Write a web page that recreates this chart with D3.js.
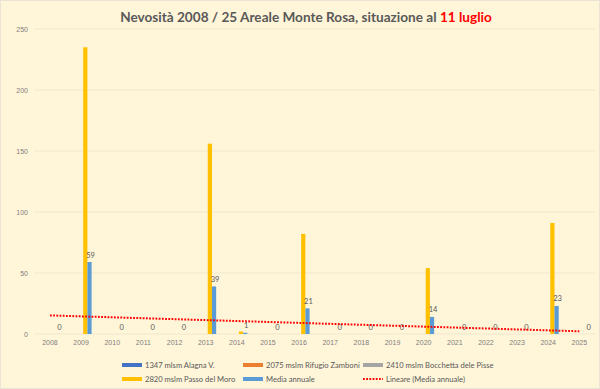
<!DOCTYPE html>
<html>
<head>
<meta charset="utf-8">
<script src="https://cdn.jsdelivr.net/npm/d3@7"></script>
<style>
  body { margin: 0; background: #fff; }
  svg { display: block; font-family: Lato, "Open Sans", sans-serif; }
</style>
</head>
<body>
<div id="chart"></div>
<script>
const kWidth = 600;
const kHeight = 389;

const years = ["2008", "2009", "2010", "2011", "2012", "2013", "2014", "2015", "2016",
  "2017", "2018", "2019", "2020", "2021", "2022", "2023", "2024", "2025"];
const alagna    = [0, 0, 0, 0, 0, 0, 0, 0, 0, 0, 0, 0, 0, 0, 0, 0, 0, 0];
const zamboni   = [0, 0, 0, 0, 0, 0, 0, 0, 0, 0, 0, 0, 0, 0, 0, 0, 0, 0];
const bocchetta = [0, 0, 0, 0, 0, 0, 0, 0, 0, 0, 0, 0, 0, 0, 0, 0, 0, 0];
const passoMoro = [0, 235, 0, 0, 0, 156, 2, 0, 82, 0, 0, 0, 54, 0, 0, 0, 91, 0];
const media     = [0, 59, 0, 0, 0, 39, 1, 0, 21, 0, 0, 0, 14, 0, 0, 0, 23, 0];
const yTicks = [0, 50, 100, 150, 200, 250];

const seriesNames = ["1347 mlsm Alagna V.", "2075 mslm Rifugio Zamboni", "2410 mslm Bocchetta dele Pisse",
  "2820 mslm Passo del Moro", "Media annuale"];
const seriesColors = ["#4472C4", "#ED7D31", "#A5A5A5", "#FFC000", "#5B9BD5"];
const seriesValues = [alagna, zamboni, bocchetta, passoMoro, media];

const svg = d3.select("#chart")
  .append("svg")
  .attr("width", kWidth)
  .attr("height", kHeight);

svg.append("rect")
  .attr("x", 0.5).attr("y", 0.5)
  .attr("width", kWidth - 1).attr("height", kHeight - 1)
  .attr("fill", "#FFF5D8")
  .attr("stroke", "#E9E4D6");

// title
const title = svg.append("text")
  .attr("x", 306)
  .attr("y", 22)
  .attr("text-anchor", "middle")
  .style("font-size", "13.6px")
  .style("font-weight", "bold")
  .attr("fill", "#595959");
title.append("tspan").text("Nevosità 2008 / 25 Areale Monte Rosa, situazione al ");
title.append("tspan").attr("fill", "#FF0000").text("11 luglio");

const xScale = d3.scaleBand()
  .domain(years)
  .range([34.4, 594.9]);

const xSeries = d3.scaleBand()
  .domain(d3.range(5))
  .range([0, xScale.bandwidth()])
  .paddingOuter(1.21);

const yScale = d3.scaleLinear()
  .domain([0, 250])
  .range([334, 29]);

// gridlines
svg.append("g")
  .selectAll("line")
  .data(yTicks)
  .join("line")
  .attr("x1", 34.4)
  .attr("x2", 594.9)
  .attr("y1", d => yScale(d))
  .attr("y2", d => yScale(d))
  .attr("stroke", "#F0E7D0")
  .attr("stroke-width", 1);

const yAxis = d3.axisLeft(yScale).tickValues(yTicks).tickSize(0).tickPadding(0);
svg.append("g")
  .attr("transform", "translate(28,0)")
  .call(yAxis)
  .call(g => g.select(".domain").remove())
  .call(g => g.selectAll("text").attr("fill", "#7F7F7F").style("font-size", "7px").attr("font-family", null));

const xAxis = d3.axisBottom(xScale).tickSize(0).tickPadding(0);
svg.append("g")
  .attr("transform", "translate(0,340)")
  .call(xAxis)
  .call(g => g.select(".domain").remove())
  .call(g => g.selectAll("text").attr("fill", "#7F7F7F").style("font-size", "7px").attr("font-family", null));

// bars
seriesValues.forEach((vals, s) => {
  svg.append("g")
    .selectAll("rect")
    .data(vals.map((v, i) => ({ year: years[i], v })))
    .join("rect")
    .attr("x", d => xScale(d.year) + xSeries(s))
    .attr("y", d => yScale(d.v))
    .attr("width", xSeries.bandwidth())
    .attr("height", d => yScale(0) - yScale(d.v))
    .attr("fill", seriesColors[s]);
});

// labels for Media annuale
svg.append("g")
  .selectAll("text")
  .data(media.map((v, i) => ({ year: years[i], v })))
  .join("text")
  .attr("x", d => xScale(d.year) + xSeries(4) + xSeries.bandwidth() / 2 + 1)
  .attr("y", d => yScale(d.v) - 4.5)
  .attr("text-anchor", "middle")
  .attr("fill", "#595959")
  .style("font-size", "7.5px")
  .text(d => d3.format(".0f")(d.v));

// linear trend of Media annuale (least squares, like Excel's "Lineare")
const n = media.length;
const xs = d3.range(1, n + 1);
const mx = d3.mean(xs);
const my = d3.mean(media);
const slope = d3.sum(xs, (x, i) => (x - mx) * (media[i] - my)) / d3.sum(xs, x => (x - mx) * (x - mx));
const trendAt = x => my + slope * (x - mx);

svg.append("line")
  .attr("x1", xScale(years[0]) + xScale.bandwidth() / 2)
  .attr("x2", xScale(years[n - 1]) + xScale.bandwidth() / 2)
  .attr("y1", yScale(trendAt(1)))
  .attr("y2", yScale(trendAt(n)))
  .attr("stroke", "#FF0000")
  .attr("stroke-width", 2)
  .attr("stroke-dasharray", "1.8,1.4");

// legend
const legendItems = [
  { name: seriesNames[0], color: seriesColors[0], x: 122, y: 365 },
  { name: seriesNames[1], color: seriesColors[1], x: 243, y: 365 },
  { name: seriesNames[2], color: seriesColors[2], x: 363, y: 365 },
  { name: seriesNames[3], color: seriesColors[3], x: 122, y: 379 },
  { name: seriesNames[4], color: seriesColors[4], x: 243, y: 379 },
  { name: "Lineare (Media annuale)", color: "#FF0000", x: 363, y: 379, dash: true }
];
const legend = svg.append("g");
legendItems.forEach(it => {
  if (it.dash) {
    legend.append("line")
      .attr("x1", it.x).attr("x2", it.x + 20)
      .attr("y1", it.y).attr("y2", it.y)
      .attr("stroke", it.color)
      .attr("stroke-width", 2)
      .attr("stroke-dasharray", "1.8,1.4");
  } else {
    legend.append("rect")
      .attr("x", it.x).attr("y", it.y - 2)
      .attr("width", 20).attr("height", 4)
      .attr("fill", it.color);
  }
  legend.append("text")
    .attr("x", it.x + 23)
    .attr("y", it.y + 2.5)
    .attr("fill", "#595959")
    .style("font-size", "7.6px")
    .text(it.name);
});
</script>
</body>
</html>
